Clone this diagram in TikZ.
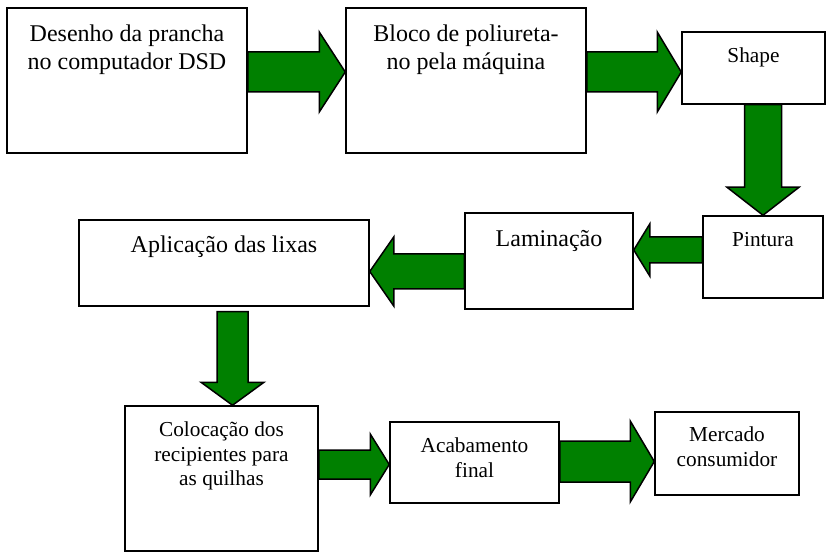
\documentclass[tikz,border=0pt]{standalone}
\usepackage{fontspec}
\setmainfont{Liberation Serif}
\usetikzlibrary{calc,positioning}

\definecolor{arrowgreen}{RGB}{0,128,0}

\tikzset{
  box/.style={draw, line width=1.5pt, inner sep=0pt},
  bigtxt/.style={align=center, inner sep=0pt, font=\fontsize{24}{28}\selectfont},
  smalltxt/.style={align=center, inner sep=0pt, font=\fontsize{21.3}{24.5}\selectfont},
  greenarrow/.style={draw, line width=1.5pt, fill=arrowgreen, line join=miter}
}

\newcommand{\blockarrow}[5]{%
  \coordinate (tail) at (#1);
  \coordinate (tip) at (#2);
  \coordinate (hb) at ($(tip)!#5pt!(tail)$);
  \draw [greenarrow] ($(tail)!#3pt!90:(tip)$) -- ($(hb)!#3pt!90:(tip)$) -- ($(hb)!#4pt!90:(tip)$)
    -- (tip) -- ($(hb)!#4pt!-90:(tip)$) -- ($(hb)!#3pt!-90:(tip)$) -- ($(tail)!#3pt!-90:(tip)$) -- cycle;
}

\begin{document}
\begin{tikzpicture}[x=1pt,y=1pt]
\useasboundingbox (0,0) rectangle (826,557);

\node [box, minimum width=240pt, minimum height=145pt] (desenho) at (127,476.5) {};
\node [box, minimum width=240pt, minimum height=145pt] (bloco) at (466,476.5) {};
\node [box, minimum width=143pt, minimum height=72pt] (shape) at (753.5,489) {};
\node [box, minimum width=120pt, minimum height=82pt] (pintura) at (763,300) {};
\node [box, minimum width=168pt, minimum height=96pt] (laminacao) at (549,296) {};
\node [box, minimum width=290pt, minimum height=86pt] (aplicacao) at (224,294) {};
\node [box, minimum width=193pt, minimum height=145pt] (colocacao) at (221.5,78.5) {};
\node [box, minimum width=169pt, minimum height=81pt] (acabamento) at (474.5,94.5) {};
\node [box, minimum width=144pt, minimum height=83pt] (mercado) at (727,103.5) {};

\node [bigtxt, below=17.5pt of desenho.north] (desenhotxt) {Desenho da prancha\\no computador DSD};
\node [bigtxt, below=17.5pt of bloco.north] (blocotxt) {Bloco de poliureta-\\no pela m\'aquina};
\node [smalltxt, below=16.5pt of shape.north] (shapetxt) {Shape};
\node [smalltxt, below=16.5pt of pintura.north] (pinturatxt) {Pintura};
\node [bigtxt, below=18pt of laminacao.north] (laminacaotxt) {Lamina\c{c}\~ao};
\node [bigtxt, below=16.5pt of aplicacao.north] (aplicacaotxt) {Aplica\c{c}\~ao das lixas};
\node [smalltxt, below=16.5pt of colocacao.north] (colocacaotxt) {Coloca\c{c}\~ao dos\\recipientes para\\as quilhas};
\node [smalltxt, below=16.5pt of acabamento.north] (acabamentotxt) {Acabamento\\final};
\node [smalltxt, below=15.5pt of mercado.north] (mercadotxt) {Mercado\\consumidor};

\blockarrow{[yshift=8.5pt]desenho.east}{bloco.west |- tail}{20}{40}{26}
\blockarrow{[yshift=8.5pt]bloco.east}{shape.west |- tail}{20}{40}{24}
\blockarrow{pintura.north |- shape.south}{pintura.north}{18.5}{36}{28}
\blockarrow{[yshift=7pt]pintura.west}{laminacao.east |- tail}{13}{26}{16}
\blockarrow{[yshift=-10.5pt]laminacao.west}{aplicacao.east |- tail}{17.5}{34.5}{24}
\blockarrow{[xshift=8.5pt,yshift=-5pt]aplicacao.south}{colocacao.north -| tail}{15.5}{31.5}{23}
\blockarrow{[yshift=14pt]colocacao.east}{acabamento.west |- tail}{14.5}{30.5}{19}
\blockarrow{[yshift=1pt]acabamento.east}{mercado.west |- tail}{20.5}{40.5}{24}

\end{tikzpicture}
\end{document}
